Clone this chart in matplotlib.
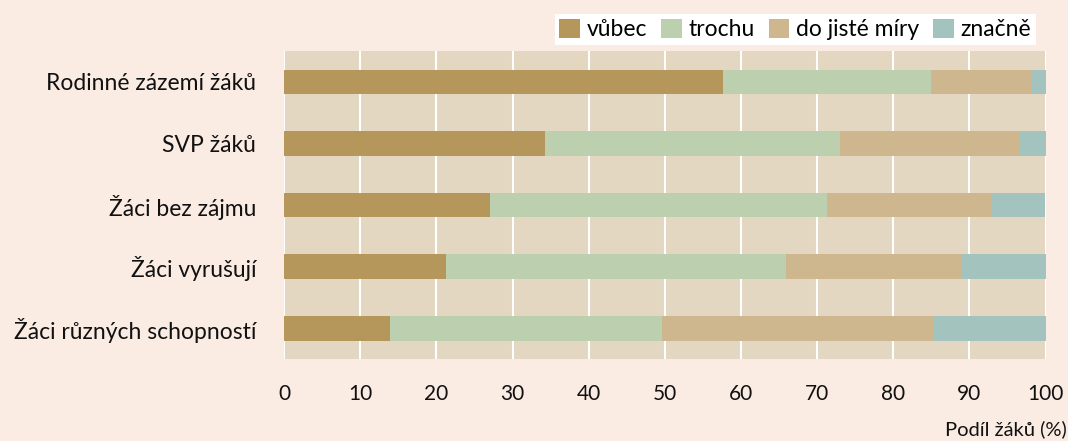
import matplotlib.pyplot as plt
import numpy as np

categories = ["Rodinné zázemí žáků", "SVP žáků", "Žáci bez zájmu",
              "Žáci vyrušují", "Žáci různých schopností"]
series = ["vůbec", "trochu", "do jisté míry", "značně"]
vubec = [57.6, 34.3, 27.0, 21.3, 13.9]
trochu = [27.4, 38.7, 44.3, 44.6, 35.7]
do_jiste = [13.2, 23.7, 21.5, 23.1, 35.7]
znacne = [1.8, 3.3, 7.1, 11.0, 14.7]
colors = ["#B5975C", "#BCD0AF", "#CEB78E", "#A3C3BE"]

plt.rcParams['font.family'] = ['Lato', 'DejaVu Sans']

fig = plt.figure(figsize=(10.68, 4.41), dpi=100, facecolor="#FAECE3")
ax = fig.add_axes([0.266, 0.186, 0.713, 0.698])
ax.set_facecolor("#E3D7C1")

y = np.arange(len(categories))
left = np.zeros(len(categories))
for name, vals, c in zip(series, [vubec, trochu, do_jiste, znacne], colors):
    ax.barh(y, vals, left=left, height=0.4, color=c, label=name, zorder=3)
    left += np.array(vals)

ax.set_xlim(0, 100)
ax.set_ylim(4.5, -0.5)
ax.set_xticks(range(0, 101, 10))
ax.set_yticks(y)
ax.set_yticklabels(categories)
ax.xaxis.grid(True, color="white", linewidth=1.5, zorder=1)
ax.set_axisbelow(True)
for s in ax.spines.values():
    s.set_visible(False)
ax.tick_params(axis="both", length=0, colors="#111111")
ax.tick_params(axis="x", pad=18, labelsize=15)
ax.tick_params(axis="y", pad=20, labelsize=16.5)

fig.text(0.999, 0.006, "Podíl žáků (%)", ha="right", va="bottom", fontsize=14.5, color="#111111")

leg = ax.legend(loc="lower right", bbox_to_anchor=(0.987, 1.02), ncol=4, frameon=True,
                fancybox=False, edgecolor="white", facecolor="white", framealpha=1,
                fontsize=16.5, handlelength=0.9, handleheight=0.9, handletextpad=0.3,
                columnspacing=0.6, borderpad=0.2, borderaxespad=0)
leg.get_frame().set_linewidth(0)

fig.savefig("out.png", dpi=100, facecolor=fig.get_facecolor())
